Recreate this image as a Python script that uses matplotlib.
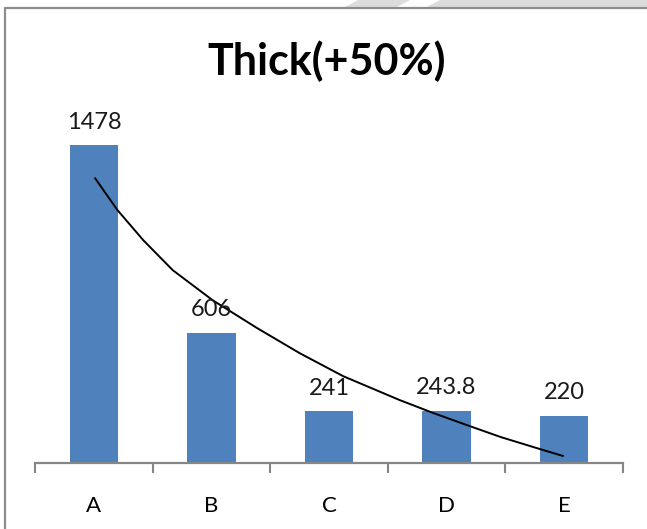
import matplotlib
matplotlib.use("Agg")
import matplotlib.pyplot as plt
from matplotlib.patches import Polygon
from matplotlib.lines import Line2D

categories = ["A", "B", "C", "D", "E"]
values = [1478, 606, 241, 243.8, 220]
labels = ["1478", "606", "241", "243.8", "220"]

# hand-drawn trend curve
trend_x = [0.01, 0.20, 0.42, 0.67, 1.01, 1.39, 1.75, 2.12, 2.60, 2.89, 3.17, 3.46, 3.74, 3.99]
trend_y = [1324, 1176, 1036, 897, 757, 627, 511, 404, 293, 232, 177, 121, 74, 33]

W, H = 647, 529
fig = plt.figure(figsize=(W / 100, H / 100), dpi=100)
fig.patch.set_facecolor("white")

# gray stripes above the chart frame (screenshot background)
fig.patches.append(Polygon([(358 / W, 1), (410 / W, 1), (395 / W, 1 - 8 / H), (343 / W, 1 - 8 / H)],
                           closed=True, transform=fig.transFigure, facecolor="#dcdcdc", edgecolor="none"))
fig.patches.append(Polygon([(440 / W, 1), (1, 1), (1, 1 - 8 / H), (425 / W, 1 - 8 / H)],
                           closed=True, transform=fig.transFigure, facecolor="#dcdcdc", edgecolor="none"))
# chart frame (left and top edges visible)
fig.lines.append(Line2D([5 / W, 5 / W, 1], [0, 1 - 8 / H, 1 - 8 / H], transform=fig.transFigure,
                        color="#8c8c8c", lw=1.6))

ax = fig.add_axes([35.25 / W, 66 / H, 587.5 / W, 344 / H])
x = list(range(len(categories)))
ax.bar(x, values, width=0.41, color="#4F81BD", zorder=2)
ax.plot(trend_x, trend_y, color="black", lw=1.4, zorder=3)

for xi, v, lab in zip(x, values, labels):
    ax.annotate(lab, (xi, v), xytext=(0, 9), textcoords="offset points",
                ha="center", va="bottom", fontsize=17, family="Lato", color="#1a1a1a")

ax.set_xlim(-0.5, 4.5)
ax.set_ylim(0, 1600)
ax.set_yticks([])
ax.set_xticks([i - 0.5 for i in range(6)])
ax.set_xticklabels([])
ax.set_xticks(x, minor=True)
ax.set_xticklabels(categories, minor=True, fontsize=16, family="Lato")
ax.tick_params(axis="x", which="major", direction="out", length=7, width=1.5, color="#868686")
ax.tick_params(axis="x", which="minor", length=0, pad=24)
for s in ["top", "right", "left"]:
    ax.spines[s].set_visible(False)
ax.spines["bottom"].set_color("#868686")
ax.spines["bottom"].set_linewidth(1.6)
ax.set_facecolor("none")

fig.text(327 / W, 1 - 61 / H, "Thick(+50%)", ha="center", va="center",
         fontsize=31, fontweight="bold", family="Lato")

fig.savefig("out.png", dpi=100)
